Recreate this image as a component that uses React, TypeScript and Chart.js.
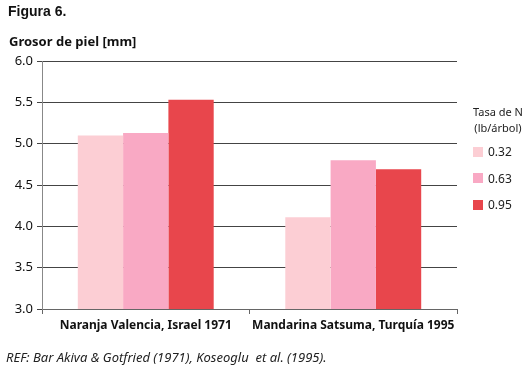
import React, { useEffect, useRef } from "react";
import { Chart, registerables } from "chart.js";

Chart.register(...registerables);

const categories = ["Naranja Valencia, Israel 1971", "Mandarina Satsuma, Turquía 1995"];
const seriesLabels = ["0.32", "0.63", "0.95"];
const series032 = [5.1, 4.11];
const series063 = [5.13, 4.8];
const series095 = [5.53, 4.69];
const colors = ["#FCCED4", "#F9A9C4", "#E8464C"];
const yTicks = [3.0, 3.5, 4.0, 4.5, 5.0, 5.5, 6.0];

const FONT = "'Noto Sans', 'Open Sans', sans-serif";

export default function App() {
  const ref = useRef<HTMLCanvasElement | null>(null);

  useEffect(() => {
    document.body.style.margin = "0";
    const ctx = ref.current!;
    const chart = new Chart(ctx, {
      type: "bar",
      data: {
        labels: categories,
        datasets: [series032, series063, series095].map((d, i) => ({
          label: seriesLabels[i],
          data: d,
          backgroundColor: colors[i],
          borderWidth: 0,
          barPercentage: 1,
          categoryPercentage: 0.655,
        })),
      },
      options: {
        animation: false,
        responsive: false,
        maintainAspectRatio: false,
        layout: { padding: { left: 0, right: 71, top: 61, bottom: 0 } },
        plugins: { legend: { display: false }, tooltip: { enabled: false } },
        scales: {
          x: {
            grid: {
              offset: true,
              drawOnChartArea: false,
              drawTicks: true,
              tickLength: 5,
              color: "#666",
            },
            border: { color: "#666", width: 1 },
            ticks: {
              color: "#111",
              padding: 4,
              autoSkip: false,
              font: { family: FONT, size: 12, weight: "bold" },
              maxRotation: 0,
            },
            afterFit: (s: any) => {
              s.height = 63;
            },
          },
          y: {
            min: 3,
            max: 6,
            afterBuildTicks: (s: any) => {
              s.ticks = yTicks.map((v) => ({ value: v }));
            },
            grid: { color: "#444", lineWidth: 1, tickLength: 5 },
            border: { color: "#888", width: 1 },
            ticks: {
              color: "#111",
              padding: 4,
              font: { family: FONT, size: 13 },
              callback: (v: any) => Number(v).toFixed(1),
            },
            afterFit: (s: any) => {
              s.width = 42;
            },
          },
        },
      },
    });
    return () => chart.destroy();
  }, []);

  return (
    <div style={{ position: "absolute", left: 0, top: 0, width: 528, height: 372, background: "#fff", fontFamily: FONT }}>
      <canvas ref={ref} width={528} height={372} style={{ position: "absolute", left: 0, top: 0 }} />
      <div style={{ position: "absolute", left: 8, top: 3, fontFamily: "'Liberation Sans', Arial, sans-serif", fontWeight: "bold", fontSize: 14, color: "#111" }}>
        Figura 6.
      </div>
      <div style={{ position: "absolute", left: 9, top: 32, fontWeight: "bold", fontSize: 13, color: "#111" }}>
        Grosor de piel [mm]
      </div>
      <div style={{ position: "absolute", left: 467, top: 104, width: 62, textAlign: "center", fontSize: 11, lineHeight: "16px", color: "#222" }}>
        Tasa de N
        <br />
        (lb/árbol)
      </div>
      {seriesLabels.map((l, i) => (
        <div key={l} style={{ position: "absolute", left: 473, top: 143 + i * 26.5, display: "flex", alignItems: "center", fontSize: 12, color: "#222" }}>
          <span style={{ display: "inline-block", width: 10, height: 10, background: colors[i], marginRight: 5 }} />
          {l}
        </div>
      ))}
      <div style={{ position: "absolute", left: 6, top: 348, fontStyle: "italic", fontSize: 13, color: "#222" }}>
        REF: Bar Akiva &amp; Gotfried (1971), Koseoglu&nbsp; et al. (1995).
      </div>
    </div>
  );
}
